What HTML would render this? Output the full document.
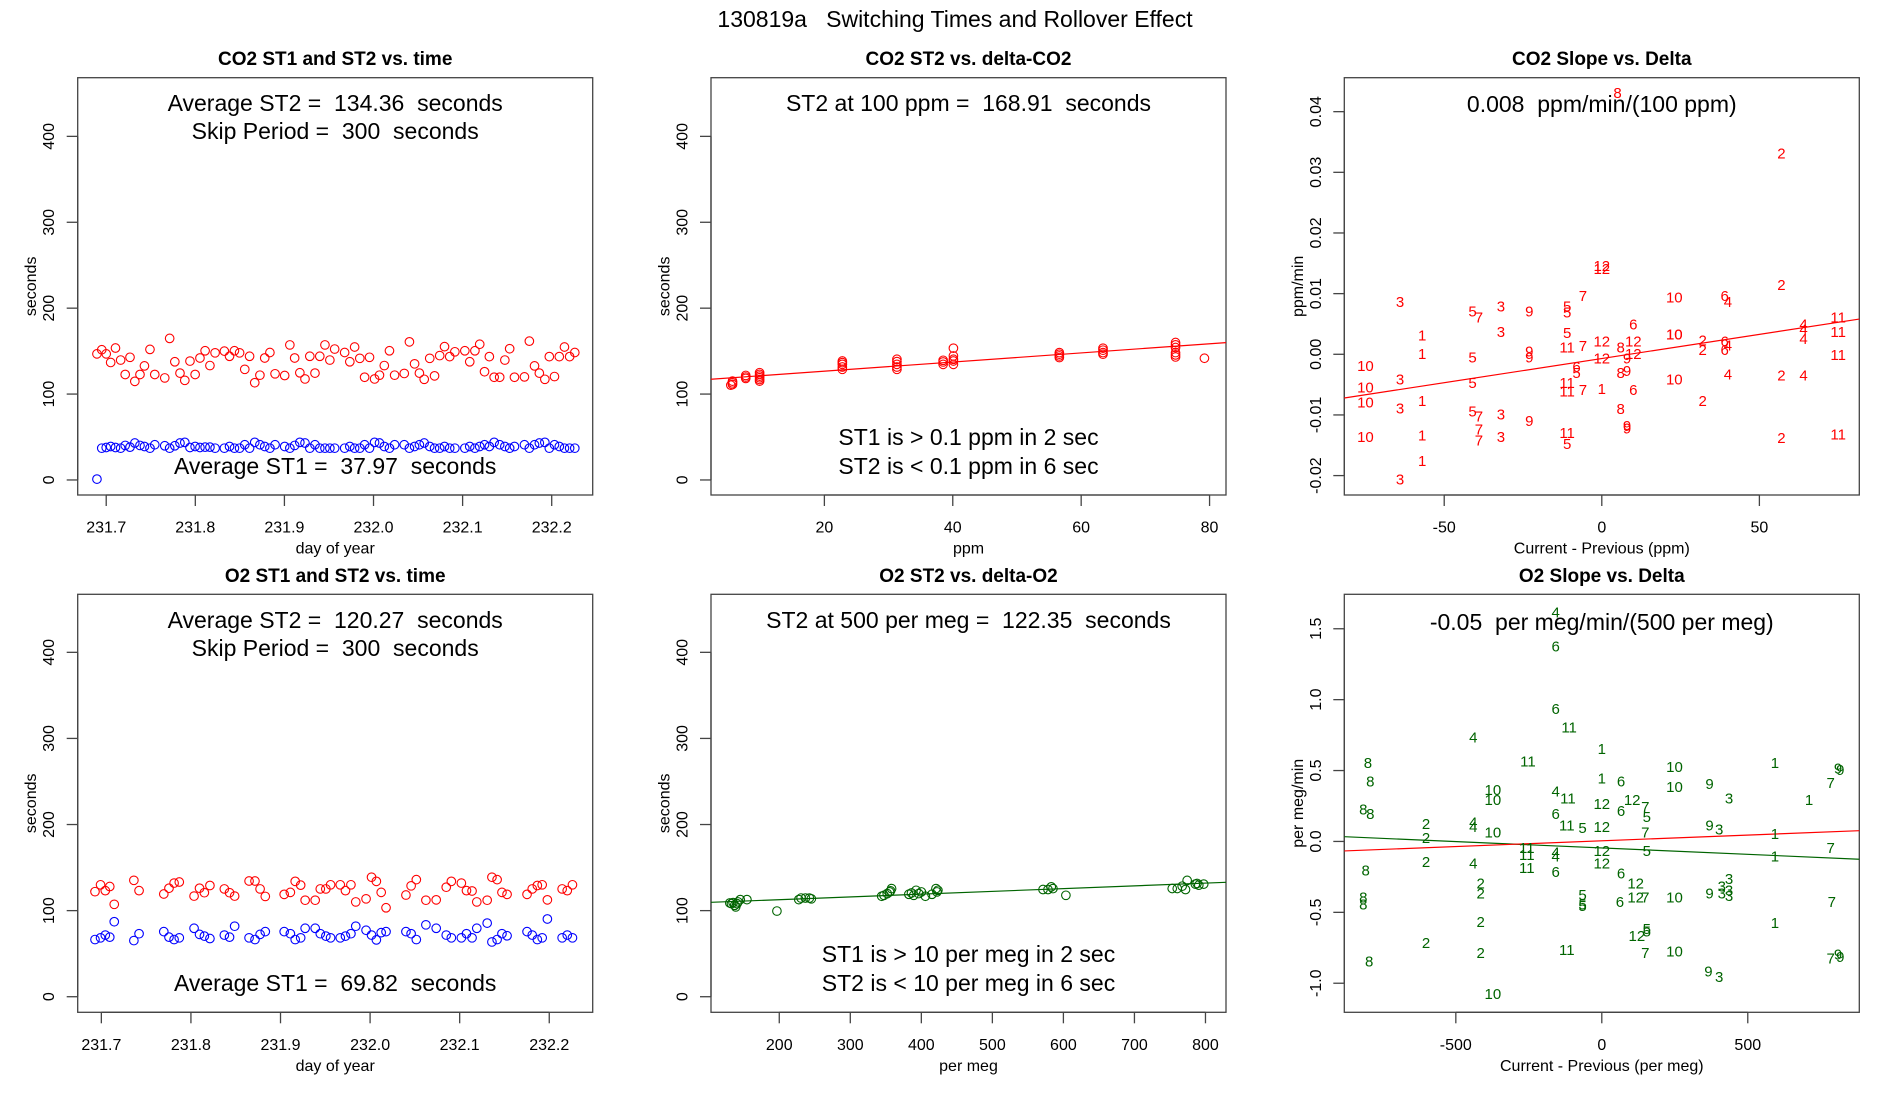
<!DOCTYPE html>
<html>
<head>
<meta charset="utf-8">
<title>130819a Switching Times and Rollover Effect</title>
<style>
  html,body{margin:0;padding:0;background:#fff;}
  svg{display:block;font-family:"Liberation Sans",sans-serif;}
  text{white-space:pre;}
</style>
</head>
<body>
<svg id="fig" xmlns="http://www.w3.org/2000/svg" width="1900" height="1100" viewBox="0 0 1900 1100">
  <rect x="0" y="0" width="1900" height="1100" fill="#fff"/>
  <text x="955" y="19" font-size="23" text-anchor="middle" dominant-baseline="central" xml:space="preserve">130819a   Switching Times and Rollover Effect</text>
</svg>
<script>
// ---------- Panel 1: CO2 switching times vs time ----------
const co2Days = [231.6896,231.6950,231.7000,231.7050,231.7104,231.7162,231.7213,231.7267,231.7321,231.7379,
231.7429,231.7491,231.7545,231.7657,231.7712,231.7770,231.7828,231.7882,231.7940,231.7998,
231.8052,231.8110,231.8164,231.8222,231.8326,231.8384,231.8439,231.8497,231.8555,231.8609,
231.8667,231.8725,231.8779,231.8837,231.8895,231.9003,231.9061,231.9115,231.9173,231.9231,
231.9285,231.9343,231.9397,231.9455,231.9510,231.9564,231.9676,231.9734,231.9788,231.9846,
231.9900,231.9955,232.0012,232.0067,232.0121,232.0179,232.0237,232.0345,232.0403,232.0461,
232.0515,232.0569,232.0631,232.0685,232.0743,232.0797,232.0855,232.0913,232.1025,232.1080,
232.1138,232.1192,232.1246,232.1300,232.1354,232.1416,232.1474,232.1528,232.1582,232.1694,
232.1749,232.1807,232.1861,232.1923,232.1973,232.2031,232.2085,232.2143,232.2201,232.2259];
const co2ST2 = [146.8,151.6,146.8,136.8,153.6,139.6,122.8,142.8,114.8,122.8,
132.8,152.0,122.8,118.8,164.8,137.6,124.4,116.0,138.4,122.8,
142.0,150.4,133.2,148.0,150.0,144.0,150.4,148.0,128.8,144.0,
113.2,122.0,142.0,148.4,123.6,121.6,157.2,142.0,124.8,117.6,
144.0,124.4,144.0,157.2,139.6,152.4,148.4,137.6,154.8,141.6,
119.6,142.8,117.6,122.0,133.2,150.4,122.0,124.0,160.8,135.2,
124.4,117.2,141.6,121.2,144.8,155.2,143.6,149.2,150.4,137.6,
150.4,158.0,126.0,143.6,119.6,119.6,139.6,152.8,119.6,120.0,
161.6,132.8,124.4,117.2,143.6,120.4,143.6,154.8,143.6,148.4];
const co2ST1 = [1.0,37,37.8,39,37.8,37,40.2,38.2,43,40.2,
39,37,41,39.8,37,39.8,43,43.8,37.8,39,
37.8,38.2,38.2,37,37,39,37,37,41,37,
43.8,41,39,37,41,39,37,40.2,43.8,43,
37,41,37,37,37,37,37,39,37,37,
41,37,43.8,43,39,37,41,41,37,39,
41,43,39,37,37,39,37,37,37,39,
37,39,41,39,43.8,41,39,37,39,41,
37,41,43,43.8,37,41,39,37,37,37];
const timeTicks = [231.7,231.8,231.9,232.0,232.1,232.2];
const timeTickLabels = ["231.7","231.8","231.9","232.0","232.1","232.2"];
const secTicks = [0,100,200,300,400];

// ---------- Panel 2: CO2 ST2 vs delta-CO2 ----------
const co2Delta = [5.69,5.69,5.69,5.43, 7.75,7.75,7.75, 9.91,9.91,9.91,9.91,9.91,9.91,
22.8,22.8,22.8,22.8,22.8, 31.3,31.3,31.3,31.3,31.3, 38.5,38.5,38.5,
40.1,40.1,40.1,40.1,40.1, 56.6,56.6,56.6,56.6, 63.4,63.4,63.4,63.4,
74.7,74.7,74.7,74.7,74.7,74.7, 79.2];
const co2DeltaST2 = [115.1,113.1,111.2,110.4, 121.7,119.8,118.2, 124.9,122.9,120.9,119.0,117.0,115.1,
138.5,136.6,134.6,131.5,128.8, 140.5,137.8,134.6,131.5,128.8, 139.3,137.4,134.6,
153.4,144.4,140.5,138.5,134.6, 148.3,146.4,144.4,142.5, 153.4,151.1,148.3,146.4,
160.0,157.3,154.2,148.3,145.6,143.2, 141.7];
const co2Fit = [116.0, 0.532]; // intercept, slope
const ppmTicks = [20,40,60,80];

// ---------- Panel 3: CO2 slope vs delta ----------
const co2SlopeLabels = ["8","2","12","12","3","5","7","3","9","5","5","7","10","6","4","2","1","3","5","11","7","12","8","6","12","10","10","2","2","6","6","4","4","4","4","11","11","11","1","5","9","9","12","9","12","10","3","10","5","6","5","11","11","7","1","8","9","6","10","4","2","4","10","3","1","5","7","3","2","8","9","9","9","7","7","10","1","3","11","5","2","11","1","3"];
const co2SlopeDx = [5,57,0,0,-64,-41,-39,-32,-23,-11,-11,-6,23,39,40,57,-57,-32,-11,-11,-6,0,6,10,10,23,23,32,32,39,39,40,64,64,64,75,75,75,-57,-41,-23,-23,0,8,10,-75,-64,-75,-41,-8,-8,-11,-11,-6,0,6,8,10,23,40,57,64,-75,-64,-57,-41,-39,-32,32,6,-23,8,8,-39,-39,-75,-57,-32,-11,-11,57,75,-57,-64];
const co2SlopeVal = [0.043,0.033,0.0145,0.014,0.0085,0.007,0.006,0.0078,0.007,0.0078,0.0068,0.0095,0.0093,0.0095,0.0085,0.0113,0.003,0.0036,0.0034,0.001,0.0013,0.002,0.001,0.0048,0.002,0.0032,0.0032,0.0022,0.0006,0.002,0.0006,0.0014,0.0048,0.004,0.0024,0.006,0.0036,-0.0002,0.0,-0.0006,0.0004,-0.0006,-0.0008,-0.0008,0.0,-0.002,-0.0042,-0.0056,-0.0048,-0.0022,-0.0032,-0.0048,-0.0062,-0.006,-0.0058,-0.0032,-0.0028,-0.006,-0.0042,-0.0034,-0.0036,-0.0036,-0.008,-0.009,-0.0078,-0.0095,-0.0103,-0.01,-0.0078,-0.0091,-0.0111,-0.0119,-0.0123,-0.0125,-0.0143,-0.0137,-0.0135,-0.0137,-0.0131,-0.0149,-0.0139,-0.0133,-0.0177,-0.0207];
const co2SlopeFit = [-0.0007, 0.0000797];
const co2SlopeXTicks = [-50,0,50];
const co2SlopeYTicks = [-0.02,-0.01,0.00,0.01,0.02,0.03,0.04];
const co2SlopeYTickLabels = ["-0.02","-0.01","0.00","0.01","0.02","0.03","0.04"];

// ---------- Panel 4: O2 switching times vs time ----------
const o2Days = [231.6929,231.6991,231.7044,231.7094,231.7144,231.7363,231.7421,231.7697,231.7755,231.7812,
231.7870,231.8035,231.8096,231.8150,231.8212,231.8373,231.8431,231.8488,231.8649,231.8715,
231.8772,231.8830,231.9041,231.9110,231.9164,231.9225,231.9275,231.9387,231.9444,231.9506,
231.9559,231.9667,231.9725,231.9786,231.9840,231.9955,232.0016,232.0070,232.0124,232.0178,
232.0400,232.0458,232.0516,232.0623,232.0738,232.0850,232.0907,232.1019,232.1076,232.1138,
232.1191,232.1307,232.1360,232.1418,232.1472,232.1529,232.1752,232.1810,232.1867,232.1921,
232.1979,232.2144,232.2201,232.2259];
const o2ST2 = [122.0,130.0,123.2,128.0,107.3,135.2,123.2,119.3,126.0,132.0,
133.2,116.9,126.0,120.8,129.2,125.2,120.8,116.9,134.4,134.4,
125.2,116.5,118.9,121.2,134.0,129.6,112.1,112.1,125.2,125.2,
130.0,130.0,123.2,130.0,110.1,113.7,138.8,134.0,121.2,103.3,
118.1,128.8,136.0,112.1,112.5,127.2,134.0,132.0,123.2,122.8,
110.1,112.1,138.8,136.0,121.2,118.9,118.9,125.2,129.2,130.0,
112.5,125.2,123.2,130.0];
const o2ST1 = [66.4,68.4,71.6,69.2,87.1,65.2,73.2,75.6,69.2,66.4,
68.4,79.5,72.4,70.4,67.6,71.6,69.2,81.9,68.4,66.4,
72.4,75.6,75.6,73.2,66.4,68.4,79.5,79.5,73.2,70.4,
68.4,68.4,70.4,73.2,81.9,77.2,71.6,66.0,74.4,75.6,
75.6,73.2,66.4,83.5,79.5,71.6,68.4,68.4,73.2,68.4,
79.5,85.5,63.6,66.4,73.2,70.8,75.6,71.6,66.4,68.4,
90.3,68.4,71.6,68.4];

// ---------- Panel 5: O2 ST2 vs delta-O2 ----------
const o2Delta = [130.4,132.7,135.0,137.3,138.7,140.5,141.9,145.1,154.5, 196.7,
227.5,230.7,236.8,242.4,245.1, 344.2,347.4,352.0,355.3,358.1,356.7,
382.4,386.1,389.3,392.6,396.3,400.0,405.7,415.0,420.6,422.0,423.3,
571.3,578.3,582.9,585.3,603.5,
753.2,760.3,767.2,771.9,774.2,785.8,788.2,790.6,797.5];
const o2DeltaST2 = [108.9,108.1,109.3,106.2,104.3,108.1,110.1,112.8,112.8, 99.5,
112.8,114.6,114.6,114.6,113.7, 116.7,117.8,119.8,121.7,125.6,122.9,
119.0,120.5,117.8,123.6,119.8,121.7,116.7,119.0,125.6,121.7,123.6,
124.5,124.5,127.6,125.6,117.8,
125.7,125.7,128.4,124.5,135.1,130.8,131.6,129.6,130.8];
const o2Fit = [106.3, 0.0321];
const permegTicks = [200,300,400,500,600,700,800];

// ---------- Panel 6: O2 slope vs delta ----------
const o2SlopeLabels = ["4","6","6","11","4","1","11","8","1","9","9","8","1","6","10","10","9","7","10","10","4","11","12","12","7","6","5","3","1","8","8","6","2","2","4","4","10","11","5","12","9","3","7","1","11","11","4","4","12","12","5","1","7","2","4","11","6","8","6","2","2","12","12","7","6","10","3","3","3","3","3","9","5","5","5","8","8","7","2","5","5","1","12","2","11","2","7","10","7","9","9","8","9","3","10"];
const o2SlopeDx = [-158,-158,-158,-112,-440,0,-253,-801,593,809,817,-793,0,66,249,249,369,784,-373,-373,-158,-116,0,104,149,66,154,436,710,-817,-793,-158,-602,-602,-440,-440,-373,-120,-66,0,369,402,149,593,-257,-257,-158,-158,0,0,154,593,784,-602,-440,-257,-158,-809,66,-415,-415,116,116,149,62,249,436,411,436,411,436,369,-66,-66,-66,-817,-817,788,-415,154,154,593,120,-602,-120,-415,149,249,784,809,817,-797,365,402,-373];
const o2SlopeVal = [1.61,1.37,0.93,0.80,0.73,0.65,0.56,0.55,0.55,0.51,0.50,0.42,0.44,0.42,0.52,0.38,0.40,0.41,0.36,0.29,0.35,0.30,0.26,0.29,0.24,0.21,0.17,0.30,0.29,0.22,0.19,0.19,0.12,0.02,0.13,0.10,0.06,0.11,0.09,0.10,0.11,0.08,0.06,0.05,-0.05,-0.10,-0.08,-0.11,-0.07,-0.16,-0.07,-0.11,-0.05,-0.15,-0.16,-0.19,-0.22,-0.21,-0.23,-0.30,-0.37,-0.30,-0.40,-0.40,-0.43,-0.40,-0.27,-0.32,-0.35,-0.37,-0.39,-0.37,-0.38,-0.45,-0.46,-0.40,-0.45,-0.43,-0.57,-0.62,-0.64,-0.58,-0.67,-0.72,-0.77,-0.79,-0.79,-0.78,-0.83,-0.80,-0.82,-0.85,-0.92,-0.96,-1.08];
const o2SlopeFitGreen = [-0.046, -0.00009];
const o2SlopeFitRed = [0.0045, 0.0000809];
const o2SlopeXTicks = [-500,0,500];
const o2SlopeYTicks = [-1.0,-0.5,0.0,0.5,1.0,1.5];
const o2SlopeYTickLabels = ["-1.0","-0.5","0.0","0.5","1.0","1.5"];

// ---------- drawing ----------
const NS = "http://www.w3.org/2000/svg";
const svg = document.getElementById('fig');
function mk(tag, attrs, parent){
  const e = document.createElementNS(NS, tag);
  for (const k in attrs) e.setAttribute(k, attrs[k]);
  (parent || svg).appendChild(e);
  return e;
}
function panel(name, box, xlim, ylim){
  const g = mk('g', {});
  
  
  const sx = v => box.x0 + (v - xlim[0]) / (xlim[1] - xlim[0]) * (box.x1 - box.x0);
  const sy = v => box.y1 - (v - ylim[0]) / (ylim[1] - ylim[0]) * (box.y1 - box.y0);
  return {g, sx, sy, box};
}
function frame(p, title){
  const b = p.box;
  const r = mk('rect', {x:b.x0, y:b.y0, width:b.x1-b.x0, height:b.y1-b.y0, fill:'none', stroke:'#444', 'stroke-width':1.3}, p.g);
  
  
  const t = mk('text', {x:(b.x0+b.x1)/2, y:b.y0-18, 'font-size':19, 'font-weight':'bold', 'text-anchor':'middle', 'dominant-baseline':'central'}, p.g);
  t.textContent = title;
  
  
}
function xAxis(p, ticks, labels, xlab){
  const b = p.box;
  const ax = mk('g', {}, p.g);
  
  
  mk('line', {x1:p.sx(ticks[0]), x2:p.sx(ticks[ticks.length-1]), y1:b.y1, y2:b.y1, stroke:'#444', 'stroke-width':1.3}, ax);
  ticks.forEach((v,i) => {
    const x = p.sx(v);
    mk('line', {x1:x, x2:x, y1:b.y1, y2:b.y1+11, stroke:'#444', 'stroke-width':1.3}, ax);
    const t = mk('text', {x:x, y:b.y1+33, 'font-size':16, 'text-anchor':'middle', 'dominant-baseline':'central'}, ax);
    t.textContent = labels ? labels[i] : String(v);
    
    
  });
  const xl = mk('text', {x:(b.x0+b.x1)/2, y:b.y1+54, 'font-size':16, 'text-anchor':'middle', 'dominant-baseline':'central'}, ax);
  xl.textContent = xlab;
  
  
}
function yAxis(p, ticks, labels, ylab){
  const b = p.box;
  const ax = mk('g', {}, p.g);
  
  
  mk('line', {x1:b.x0, x2:b.x0, y1:p.sy(ticks[0]), y2:p.sy(ticks[ticks.length-1]), stroke:'#444', 'stroke-width':1.3}, ax);
  ticks.forEach((v,i) => {
    const y = p.sy(v);
    mk('line', {x1:b.x0-11, x2:b.x0, y1:y, y2:y, stroke:'#444', 'stroke-width':1.3}, ax);
    const t = mk('text', {x:0, y:0, 'font-size':16, 'text-anchor':'middle', 'dominant-baseline':'central', transform:`translate(${b.x0-28},${y}) rotate(-90)`}, ax);
    t.textContent = labels ? labels[i] : String(v);
    
    
  });
  const yl = mk('text', {x:0, y:0, 'font-size':16, 'text-anchor':'middle', 'dominant-baseline':'central', transform:`translate(${b.x0-46},${(b.y0+b.y1)/2}) rotate(-90)`}, ax);
  yl.textContent = ylab;
  
  
}
function note(p, text, y, name){
  const b = p.box;
  const t = mk('text', {x:(b.x0+b.x1)/2, y:y, 'font-size':23, 'text-anchor':'middle', 'dominant-baseline':'central'}, p.g);
  t.textContent = text;
  
  
}
function points(p, xs, ys, color, name){
  const g = mk('g', {}, p.g);
  
  
  const n = Math.min(xs.length, ys.length);
  for (let i=0;i<n;i++){
    const c = mk('circle', {cx:p.sx(xs[i]), cy:p.sy(ys[i]), r:4.3, fill:'none', stroke:color, 'stroke-width':1.1}, g);
    
    
  }
}
function labels(p, xs, ys, labs, color, name){
  const g = mk('g', {}, p.g);
  
  
  const n = Math.min(xs.length, ys.length, labs.length);
  for (let i=0;i<n;i++){
    const t = mk('text', {x:p.sx(xs[i]), y:p.sy(ys[i]), 'font-size':15, fill:color, 'text-anchor':'middle', 'dominant-baseline':'central'}, g);
    t.textContent = labs[i];
    
    
  }
}
function fitLine(p, fit, xlim, color, name){
  const l = mk('line', {x1:p.sx(xlim[0]), y1:p.sy(fit[0]+fit[1]*xlim[0]), x2:p.sx(xlim[1]), y2:p.sy(fit[0]+fit[1]*xlim[1]), stroke:color, 'stroke-width':1.2}, p.g);
  
  
}

const R1 = {y0:77.7, y1:495}, R2 = {y0:594.3, y1:1012.3};
const C1 = {x0:77.7, x1:592.7}, C2 = {x0:711, x1:1226}, C3 = {x0:1344.3, x1:1859.3};

// Panel 1
const p1x = [231.668, 232.246], p1y = [-17.5, 468.3];
const p1 = panel('co2-times-panel', {...C1, ...R1}, p1x, p1y);
frame(p1, 'CO2 ST1 and ST2 vs. time');
xAxis(p1, timeTicks, timeTickLabels, 'day of year');
yAxis(p1, secTicks, null, 'seconds');
points(p1, co2Days, co2ST2, '#ff0000', 'st2-series');
points(p1, co2Days, co2ST1, '#0000ff', 'st1-series');
note(p1, 'Average ST2 =  134.36  seconds', 103, 'average-st2-note');
note(p1, 'Skip Period =  300  seconds', 131, 'skip-period-note');
note(p1, 'Average ST1 =  37.97  seconds', 466, 'average-st1-note');

// Panel 2
const p2x = [2.34, 82.56];
const p2 = panel('co2-st2-vs-delta-panel', {...C2, ...R1}, p2x, p1y);
frame(p2, 'CO2 ST2 vs. delta-CO2');
xAxis(p2, ppmTicks, null, 'ppm');
yAxis(p2, secTicks, null, 'seconds');
fitLine(p2, co2Fit, p2x, '#ff0000', 'regression-line');
points(p2, co2Delta, co2DeltaST2, '#ff0000', 'st2-series');
note(p2, 'ST2 at 100 ppm =  168.91  seconds', 103, 'st2-at-100-note');
note(p2, 'ST1 is > 0.1 ppm in 2 sec', 437, 'st1-threshold-note');
note(p2, 'ST2 is < 0.1 ppm in 6 sec', 466, 'st2-threshold-note');

// Panel 3
const p3x = [-81.7, 81.7], p3y = [-0.0232, 0.0456];
const p3 = panel('co2-slope-panel', {...C3, ...R1}, p3x, p3y);
frame(p3, 'CO2 Slope vs. Delta');
xAxis(p3, co2SlopeXTicks, null, 'Current - Previous (ppm)');
yAxis(p3, co2SlopeYTicks, co2SlopeYTickLabels, 'ppm/min');
fitLine(p3, co2SlopeFit, p3x, '#ff0000', 'regression-line');
labels(p3, co2SlopeDx, co2SlopeVal, co2SlopeLabels, '#ff0000', 'slope-points');
note(p3, '0.008  ppm/min/(100 ppm)', 104, 'slope-note');

// Panel 4
const p4x = [231.6736, 232.2485], p4y = [-18.1, 467.4];
const p4 = panel('o2-times-panel', {...C1, ...R2}, p4x, p4y);
frame(p4, 'O2 ST1 and ST2 vs. time');
xAxis(p4, timeTicks, timeTickLabels, 'day of year');
yAxis(p4, secTicks, null, 'seconds');
points(p4, o2Days, o2ST2, '#ff0000', 'st2-series');
points(p4, o2Days, o2ST1, '#0000ff', 'st1-series');
note(p4, 'Average ST2 =  120.27  seconds', 620, 'average-st2-note');
note(p4, 'Skip Period =  300  seconds', 648, 'skip-period-note');
note(p4, 'Average ST1 =  69.82  seconds', 983, 'average-st1-note');

// Panel 5
const p5x = [103.9, 828.9];
const p5 = panel('o2-st2-vs-delta-panel', {...C2, ...R2}, p5x, p4y);
frame(p5, 'O2 ST2 vs. delta-O2');
xAxis(p5, permegTicks, null, 'per meg');
yAxis(p5, secTicks, null, 'seconds');
fitLine(p5, o2Fit, p5x, '#006400', 'regression-line');
points(p5, o2Delta, o2DeltaST2, '#006400', 'st2-series');
note(p5, 'ST2 at 500 per meg =  122.35  seconds', 620, 'st2-at-500-note');
note(p5, 'ST1 is > 10 per meg in 2 sec', 954, 'st1-threshold-note');
note(p5, 'ST2 is < 10 per meg in 6 sec', 983, 'st2-threshold-note');

// Panel 6
const p6x = [-882, 882], p6y = [-1.205, 1.743];
const p6 = panel('o2-slope-panel', {...C3, ...R2}, p6x, p6y);
frame(p6, 'O2 Slope vs. Delta');
xAxis(p6, o2SlopeXTicks, null, 'Current - Previous (per meg)');
yAxis(p6, o2SlopeYTicks, o2SlopeYTickLabels, 'per meg/min');
fitLine(p6, o2SlopeFitGreen, p6x, '#006400', 'regression-line-green');
fitLine(p6, o2SlopeFitRed, p6x, '#ff0000', 'regression-line-red');
labels(p6, o2SlopeDx, o2SlopeVal, o2SlopeLabels, '#006400', 'slope-points');
note(p6, '-0.05  per meg/min/(500 per meg)', 622, 'slope-note');
</script>
</body>
</html>
